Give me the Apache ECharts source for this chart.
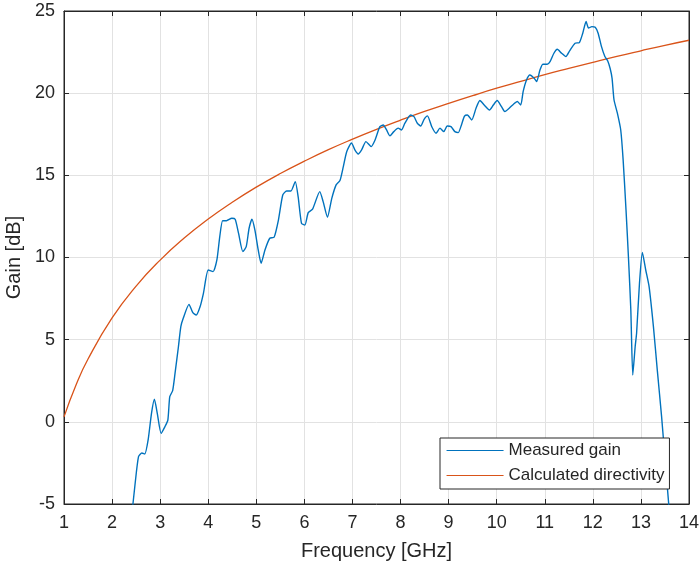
<!DOCTYPE html>
<html>
<head>
<meta charset="utf-8">
<script src="https://cdn.jsdelivr.net/npm/echarts@6/dist/echarts.min.js"></script>
<style>
  html, body { margin: 0; padding: 0; background: #ffffff; }
  #chart { width: 700px; height: 568px; }
</style>
</head>
<body>
<div id="chart"></div>
<script>
// Measured antenna gain versus frequency
const measFreq = [
  2.38, 2.48, 2.55, 2.62, 2.68, 2.75, 2.82, 2.88, 2.94, 3.02, 3.10, 3.16, 3.20, 3.26, 3.31,
  3.38, 3.43, 3.48, 3.60, 3.68, 3.75, 3.83, 3.90, 4.00, 4.10, 4.18, 4.24, 4.30, 4.38, 4.49,
  4.56, 4.63, 4.72, 4.79, 4.85, 4.91, 4.97, 5.04, 5.10, 5.18, 5.28, 5.37, 5.46, 5.55, 5.63,
  5.72, 5.81, 5.87, 5.94, 6.01, 6.08, 6.17, 6.32, 6.39, 6.48, 6.57, 6.66, 6.74, 6.81, 6.88,
  6.98, 7.05, 7.12, 7.19, 7.28, 7.39, 7.47, 7.57, 7.64, 7.71, 7.78, 7.86, 7.95, 8.02, 8.09,
  8.21, 8.28, 8.35, 8.42, 8.49, 8.56, 8.65, 8.74, 8.82, 8.90, 8.97, 9.05, 9.13, 9.20, 9.27,
  9.33, 9.39, 9.48, 9.57, 9.65, 9.74, 9.85, 9.93, 10.01, 10.10, 10.17, 10.26, 10.35, 10.43, 10.50,
  10.55, 10.62, 10.69, 10.78, 10.83, 10.90, 10.96, 11.05, 11.11, 11.19, 11.26, 11.35, 11.44, 11.52, 11.63,
  11.72, 11.79, 11.86, 11.91, 11.98, 12.05, 12.11, 12.18, 12.25, 12.31, 12.36, 12.40, 12.44, 12.51, 12.58,
  12.63, 12.69, 12.74, 12.79, 12.83, 12.88, 12.91, 12.97, 13.03, 13.10, 13.17, 13.26, 13.34, 13.43, 13.52,
  13.62
];
const measGain = [
  -6.5, -3.74, -2.12, -1.9, -1.96, -1.1, 0.52, 1.37, 0.52, -0.7, -0.29, 0.11, 1.53, 1.9, 2.96,
  4.57, 5.79, 6.3, 7.15, 6.64, 6.5, 7.0, 7.82, 9.24, 9.14, 9.85, 11.27, 12.24, 12.24, 12.39,
  12.33, 11.48, 10.36, 10.66, 11.78, 12.33, 11.68, 10.46, 9.65, 10.46, 11.17, 11.23, 12.28, 13.8, 14.05,
  14.05, 14.62, 13.7, 12.08, 11.98, 12.73, 12.94, 14.01, 13.4, 12.45, 13.6, 14.42, 14.68, 15.53, 16.44,
  16.97, 16.55, 16.3, 16.55, 17.05, 16.75, 17.15, 17.96, 18.06, 17.76, 17.4, 17.66, 17.87, 17.76, 18.17,
  18.67, 18.57, 18.17, 18.0, 18.41, 18.62, 17.96, 17.56, 17.87, 17.66, 18.0, 17.96, 17.66, 17.6, 18.1,
  18.6, 18.67, 18.37, 19.08, 19.55, 19.28, 18.98, 19.28, 19.55, 19.18, 18.88, 19.08, 19.33, 19.49, 19.28,
  20.09, 20.8, 21.11, 20.91, 20.7, 21.41, 21.76, 21.76, 21.92, 22.43, 22.67, 22.43, 22.23, 22.59, 23.04,
  23.08, 23.65, 24.36, 23.96, 24.05, 24.01, 23.65, 22.83, 22.23, 21.96, 21.5, 20.9, 19.6, 18.78, 17.76,
  15.94, 12.89, 10.05, 6.81, 2.85, 4.57, 5.39, 8.43, 10.3, 9.24, 8.23, 5.79, 3.16, 0.32, -2.93,
  -6.5
];

// Calculated directivity versus frequency
const calcFreq = [
  1, 1.25, 1.5, 2, 2.5, 3, 3.5, 4, 4.5, 5, 5.5, 6, 6.5, 7, 7.5,
  8, 8.5, 9, 9.5, 10, 10.5, 11, 11.5, 12, 12.5, 13, 13.5, 14
];
const calcDir = [
  0.3, 2.24, 3.82, 6.32, 8.26, 9.84, 11.18, 12.34, 13.36, 14.28, 15.11, 15.86, 16.56, 17.2, 17.8,
  18.36, 18.89, 19.38, 19.85, 20.3, 20.72, 21.13, 21.51, 21.88, 22.24, 22.58, 22.91, 23.22
];

// Axis ranges and tick labels
const xTicks = [1, 2, 3, 4, 5, 6, 7, 8, 9, 10, 11, 12, 13, 14];
const yTicks = [-5, 0, 5, 10, 15, 20, 25];
const seriesNames = ['Measured gain', 'Calculated directivity'];

const axisColor = '#262626';
const gridColor = '#e2e2e2';
const font = 'Liberation Sans, Arial, Helvetica, sans-serif';

const pairs = (xs, ys) => xs.map((x, i) => [x, ys[i]]);

const chart = echarts.init(document.getElementById('chart'), null, { renderer: 'canvas' });

const baseX = {
  type: 'value',
  min: xTicks[0],
  max: xTicks[xTicks.length - 1],
  interval: 1
};
const baseY = {
  type: 'value',
  min: yTicks[0],
  max: yTicks[yTicks.length - 1],
  interval: 5
};
const frameLine = { show: true, onZero: false, lineStyle: { color: axisColor, width: 1 } };
const innerTick = { show: true, inside: true, length: 5, lineStyle: { color: axisColor } };

chart.setOption({
  animation: false,
  backgroundColor: '#ffffff',
  textStyle: { fontFamily: font },
  grid: {
    left: 64, right: 11, top: 11, bottom: 64,
    containLabel: false,
    outerBoundsMode: 'none',
    show: true, borderColor: axisColor, borderWidth: 1, backgroundColor: '#ffffff'
  },
  legend: {
    data: seriesNames,
    orient: 'vertical',
    left: 440,
    top: 438,
    padding: [4, 5, 5, 6],
    itemGap: 8,
    itemWidth: 57,
    itemHeight: 17,
    backgroundColor: '#ffffff',
    borderColor: axisColor,
    borderWidth: 1,
    borderRadius: 0,
    itemStyle: { opacity: 0 },
    lineStyle: { width: 1.1 },
    textStyle: { fontSize: 17, color: axisColor, fontFamily: font, lineHeight: 17 }
  },
  xAxis: [
    Object.assign({}, baseX, {
      position: 'bottom',
      name: 'Frequency [GHz]',
      nameLocation: 'middle',
      nameGap: 37,
      nameTextStyle: { fontSize: 20, color: axisColor, fontFamily: font },
      axisLine: frameLine,
      axisTick: innerTick,
      axisLabel: { fontSize: 18, color: axisColor, margin: 10, fontFamily: font },
      splitLine: { show: true, lineStyle: { color: gridColor, width: 1 } }
    }),
    Object.assign({}, baseX, {
      position: 'top',
      axisLine: frameLine,
      axisTick: innerTick,
      axisLabel: { show: false },
      splitLine: { show: false }
    })
  ],
  yAxis: [
    Object.assign({}, baseY, {
      position: 'left',
      name: 'Gain [dB]',
      nameLocation: 'middle',
      nameRotate: 90,
      nameGap: 32,
      nameTextStyle: { fontSize: 20, color: axisColor, fontFamily: font },
      axisLine: frameLine,
      axisTick: innerTick,
      axisLabel: { fontSize: 18, color: axisColor, margin: 9, fontFamily: font },
      splitLine: { show: true, lineStyle: { color: gridColor, width: 1 } }
    }),
    Object.assign({}, baseY, {
      position: 'right',
      axisLine: frameLine,
      axisTick: innerTick,
      axisLabel: { show: false },
      splitLine: { show: false }
    })
  ],
  series: [
    {
      name: seriesNames[0],
      type: 'line',
      xAxisIndex: 0,
      yAxisIndex: 0,
      data: pairs(measFreq, measGain),
      symbol: 'none',
      smooth: 0.2,
      clip: true,
      color: '#0072BD',
      lineStyle: { color: '#0072BD', width: 1.4 },
      z: 3
    },
    {
      name: seriesNames[1],
      type: 'line',
      xAxisIndex: 0,
      yAxisIndex: 0,
      data: pairs(calcFreq, calcDir),
      symbol: 'none',
      smooth: true,
      clip: true,
      color: '#D95319',
      lineStyle: { color: '#D95319', width: 1.3 },
      z: 2
    }
  ]
});
</script>
</body>
</html>
